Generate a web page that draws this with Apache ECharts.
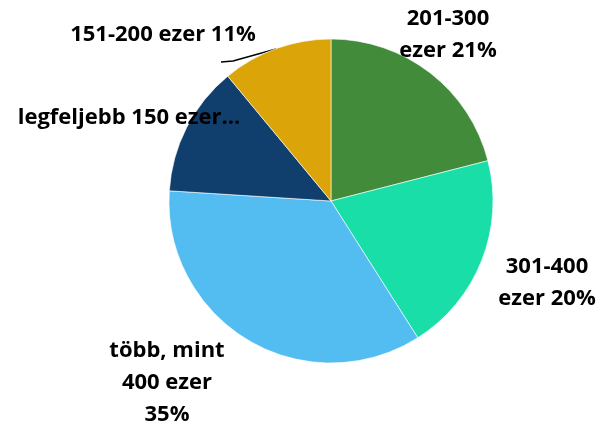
<!DOCTYPE html>
<html>
<head>
<meta charset="utf-8">
<script src="https://cdn.jsdelivr.net/npm/echarts@6/dist/echarts.min.js"></script>
<style>
  html, body { margin: 0; padding: 0; background: #fff; }
  #chart { width: 599px; height: 427px; }
</style>
</head>
<body>
<div id="chart"></div>
<script>
// kategóriák (óramutató járása szerint, fentről)
const categories = ['201-300 ezer', '301-400 ezer', 'több, mint 400 ezer', 'legfeljebb 150 ezer', '151-200 ezer']
const shares = [21, 20, 35, 13, 11]
const labelTexts = ['201-300\nezer 21%', '301-400\nezer 20%', 'több, mint\n400 ezer\n35%', 'legfeljebb 150 ezer…', '151-200 ezer 11%']
const colors = ['#428b3a', '#1adea8', '#53bdf1', '#113f6d', '#dba50a']

// címkék helye (px)
const labelPos = [
  [448, 35],
  [547, 283],
  [167, 383],
  [129, 118],
  [163, 35]
]

const chart = echarts.init(document.getElementById('chart'))
chart.setOption({
  animation: false,
  series: [
    {
      type: 'pie',
      center: [331, 201],
      radius: 162,
      startAngle: 90,
      clockwise: true,
      color: colors,
      itemStyle: { borderColor: '#fff', borderWidth: 0.6 },
      label: {
        show: true,
        position: 'outside',
        formatter: p => labelTexts[p.dataIndex],
        fontFamily: 'Open Sans',
        fontWeight: 'bold',
        fontSize: 22,
        lineHeight: 32,
        color: '#000',
        align: 'center',
        overflow: 'none',
        width: 300
      },
      labelLine: { show: false },
      labelLayout: p => ({
        x: labelPos[p.dataIndex][0],
        y: labelPos[p.dataIndex][1],
        align: 'center',
        verticalAlign: 'middle',
        labelLinePoints: p.dataIndex === 4 ? [[276, 49], [233, 61], [221, 62]] : undefined
      }),
      data: categories.map((name, i) => ({
        name,
        value: shares[i],
        labelLine: i === 4 ? { show: true, lineStyle: { color: '#000', width: 1.5 } } : { show: false }
      }))
    }
  ]
})
</script>
</body>
</html>
